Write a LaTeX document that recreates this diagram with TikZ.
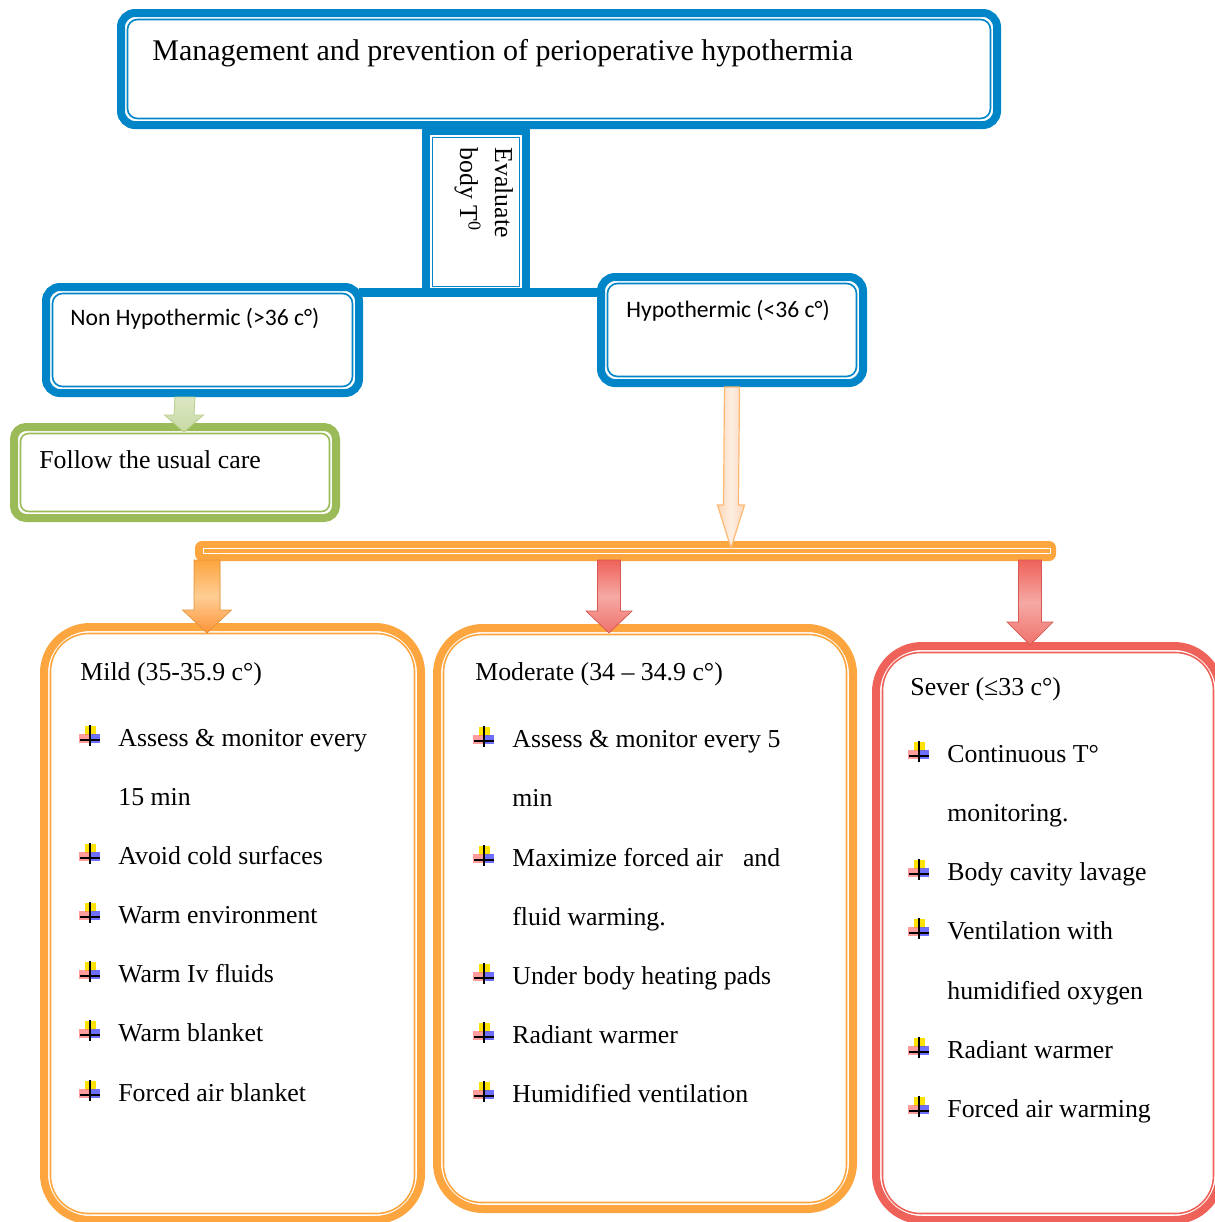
\documentclass[tikz,border=0pt]{standalone}
\usepackage{fontspec}
\setmainfont{Liberation Serif}
\newfontfamily\calfnt{Carlito}
\usetikzlibrary{calc,fit}
\definecolor{blu}{RGB}{0,134,200}
\definecolor{grn}{RGB}{155,187,89}
\definecolor{org}{RGB}{253,165,62}
\definecolor{rd}{RGB}{238,98,90}
\definecolor{peach}{RGB}{252,214,184}
\newcommand\dbox[8]{% name, x1,y1,x2,y2, r outer, r inner, color
  \coordinate (#1-a) at (#2,#3);
  \coordinate (#1-b) at (#4,#5);
  \node[fit=(#1-a)(#1-b), inner sep=0pt, outer sep=0pt] (#1) {};
  \draw[#8, line width=4pt, rounded corners=#6] ($(#1-a)+(4,4)$) rectangle ($(#1-b)+(-4,-4)$);
  \draw[#8, line width=0.8pt, rounded corners=#7] ($(#1-a)+(10.5,10.5)$) rectangle ($(#1-b)+(-10.5,-10.5)$);
}
\newcommand\barrow[6]{% from, to, shaft half, head half, head length, style
  \path[#6] ($(#1)+(-#3,0)$) -- ($(#2)+(-#3,-#5)$) -- ($(#2)+(-#4,-#5)$) -- (#2) -- ($(#2)+(#4,-#5)$) -- ($(#2)+(#3,-#5)$) -- ($(#1)+(#3,0)$) -- cycle;
}
\newcommand\bitem[4]{\node[txt] (#1) at (#2,#3) {#4}; \pic at ($(#1.base west)+(-28,-9)$) {bul};}
\newcommand\citem[4]{\node[txt] (#1) at (#2,#3) {#4};}
\tikzset{
  txt/.style={font=\fontsize{12.9}{15}\selectfont, anchor=base west, inner sep=0pt},
  ttl/.style={font=\fontsize{15}{18}\selectfont, anchor=base west, inner sep=0pt},
  cal/.style={font=\calfnt\fontsize{11.8}{14}\selectfont, anchor=base west, inner sep=0pt},
  bul/.pic={
    \fill[yellow!85!orange] (-5,-11) rectangle (6,-2);
    \fill[red!55, opacity=0.7] (-11,-3) rectangle (0,6);
    \fill[blue!70, opacity=0.8] (-1,-3) rectangle (10,6);
    \draw[black, line width=0.7pt] (0,-12) -- (0,9) (-10,3) -- (10,3);
  },
}
\begin{document}
\begin{tikzpicture}[x=0.5pt,y=-0.5pt]
\fill[white] (0,0) rectangle (1215,1222);
\useasboundingbox (0,0) rectangle (1215,1222);

% evaluate box
\coordinate (ev-a) at (422,127);
\coordinate (ev-b) at (530,297);
\node[fit=(ev-a)(ev-b), inner sep=0pt, outer sep=0pt] (ev) {};
\draw[blu, line width=4pt] ($(ev-a)+(4,4)$) rectangle ($(ev-b)+(-4,-4)$);
\draw[blu, line width=0.8pt] ($(ev-a)+(10.5,10.5)$) rectangle ($(ev-b)+(-10.5,-10.5)$);
\node[txt, rotate=-90] (ev1) at (495,147) {Evaluate};
\node[txt, rotate=-90] (ev2) at (460,147) {body T\textsuperscript{0}};

% title
\dbox{title}{117}{9}{1001}{129}{7pt}{5pt}{blu}
\node[ttl] (ttltext) at (152,60) {Management and prevention of perioperative hypothermia};

% non hypothermic / hypothermic
\dbox{nonhyp}{42}{283}{363}{397}{7pt}{5pt}{blu}
\node[cal] (nonhyptext) at (70,325) {Non Hypothermic (>36 c°)};
\dbox{hyp}{597}{273}{867}{387}{7pt}{5pt}{blu}
\node[cal] (hyptext) at (626,317) {Hypothermic (<36 c°)};
\draw[blu, line width=4.5pt] ($(nonhyp.north east)+(-4,9)$) -- ($(hyp.north west)+(4,19)$);

% follow usual care
\dbox{follow}{10}{423}{340}{522}{6pt}{4pt}{grn}
\node[txt] (followtext) at (39,468) {Follow the usual care};

% green arrow
\coordinate (g1) at ($(nonhyp.south west)+(143,0)$);
\coordinate (g2) at ($(follow.north west)+(174,9)$);
\barrow{g1}{g2}{10}{19.5}{17}{fill=grn!75!black!60, xshift=1.2pt, yshift=-0.8pt}
\barrow{g1}{g2}{10}{19.5}{17}{top color=grn!35, bottom color=grn!55, draw=grn!70, line width=0.4pt}

% bar
\coordinate (bar-a) at (195,541);
\coordinate (bar-b) at (1056,561);
\node[fit=(bar-a)(bar-b), inner sep=0pt, outer sep=0pt] (bar) {};
\fill[org, rounded corners=3.5pt] (bar-a) rectangle (bar-b);
\draw[white, line width=0.5pt] (203,548) rectangle (1050,553);

% peach arrow
\coordinate (p1) at (hyp.south);
\coordinate (p2) at ($(hyp.south |- bar.north)+(-1,7)$);
\barrow{p1}{p2}{7.5}{13.5}{43}{left color=peach, right color=peach, middle color=peach!40, draw=orange!55, line width=0.6pt}

% level boxes
\dbox{mild}{40}{623}{425}{1224}{23pt}{19pt}{org}
\dbox{mod}{433}{624}{857}{1213}{23pt}{19pt}{org}
\dbox{sev}{872}{642}{1224}{1224}{23pt}{19pt}{rd}

% arrows from the bar
\coordinate (m1) at ($(bar.south west)+(12,-1)$);
\coordinate (m2) at ($(mild.north west)+(167,10)$);
\barrow{m1}{m2}{13}{24.5}{23}{fill=brown!80!orange, xshift=1.5pt, yshift=-1pt}
\barrow{m1}{m2}{13}{24.5}{23}{top color=org, bottom color=org!90!red, middle color=org!55, draw=org!90!black, line width=0.3pt}

\coordinate (d1) at ($(bar.south west)+(414,-1)$);
\coordinate (d2) at ($(mod.north west)+(176,9)$);
\barrow{d1}{d2}{11.5}{23}{22}{fill=rd!60!black, xshift=1.5pt, yshift=-1pt}
\barrow{d1}{d2}{11.5}{23}{22}{top color=rd, bottom color=rd!90, middle color=rd!55, draw=rd!90!black, line width=0.3pt}

\coordinate (s1) at ($(bar.south west)+(835,-1)$);
\coordinate (s2) at ($(sev.north west)+(158,3)$);
\barrow{s1}{s2}{11.5}{23}{23}{fill=rd!60!black, xshift=1.5pt, yshift=-1pt}
\barrow{s1}{s2}{11.5}{23}{23}{top color=rd, bottom color=rd!90, middle color=rd!55, draw=rd!90!black, line width=0.3pt}

% mild contents
\node[txt] (mildh) at (80,680) {Mild (35-35.9 c°)};
\bitem{mi1}{118}{746}{Assess \& monitor every}
\citem{mi2}{118}{805}{15 min}
\bitem{mi3}{118}{864}{Avoid cold surfaces}
\bitem{mi4}{118}{923}{Warm environment}
\bitem{mi5}{118}{982}{Warm Iv fluids}
\bitem{mi6}{118}{1041}{Warm blanket}
\bitem{mi7}{118}{1101}{Forced air blanket}

% moderate contents
\node[txt] (modh) at (475,680) {Moderate (34 – 34.9 c°)};
\bitem{mo1}{512}{747}{Assess \& monitor every 5}
\citem{mo2}{512}{806}{min}
\bitem{mo3}{512}{866}{Maximize forced air\hspace*{10pt}and}
\citem{mo4}{512}{925}{fluid warming.}
\bitem{mo5}{512}{984}{Under body heating pads}
\bitem{mo6}{512}{1043}{Radiant warmer}
\bitem{mo7}{512}{1102}{Humidified ventilation}

% sever contents
\node[txt] (sevh) at (910,695) {Sever (≤33 c°)};
\bitem{se1}{947}{762}{Continuous T°}
\citem{se2}{947}{821}{monitoring.}
\bitem{se3}{947}{880}{Body cavity lavage}
\bitem{se4}{947}{939}{Ventilation with}
\citem{se5}{947}{999}{humidified oxygen}
\bitem{se6}{947}{1058}{Radiant warmer}
\bitem{se7}{947}{1117}{Forced air warming}
\end{tikzpicture}
\end{document}
